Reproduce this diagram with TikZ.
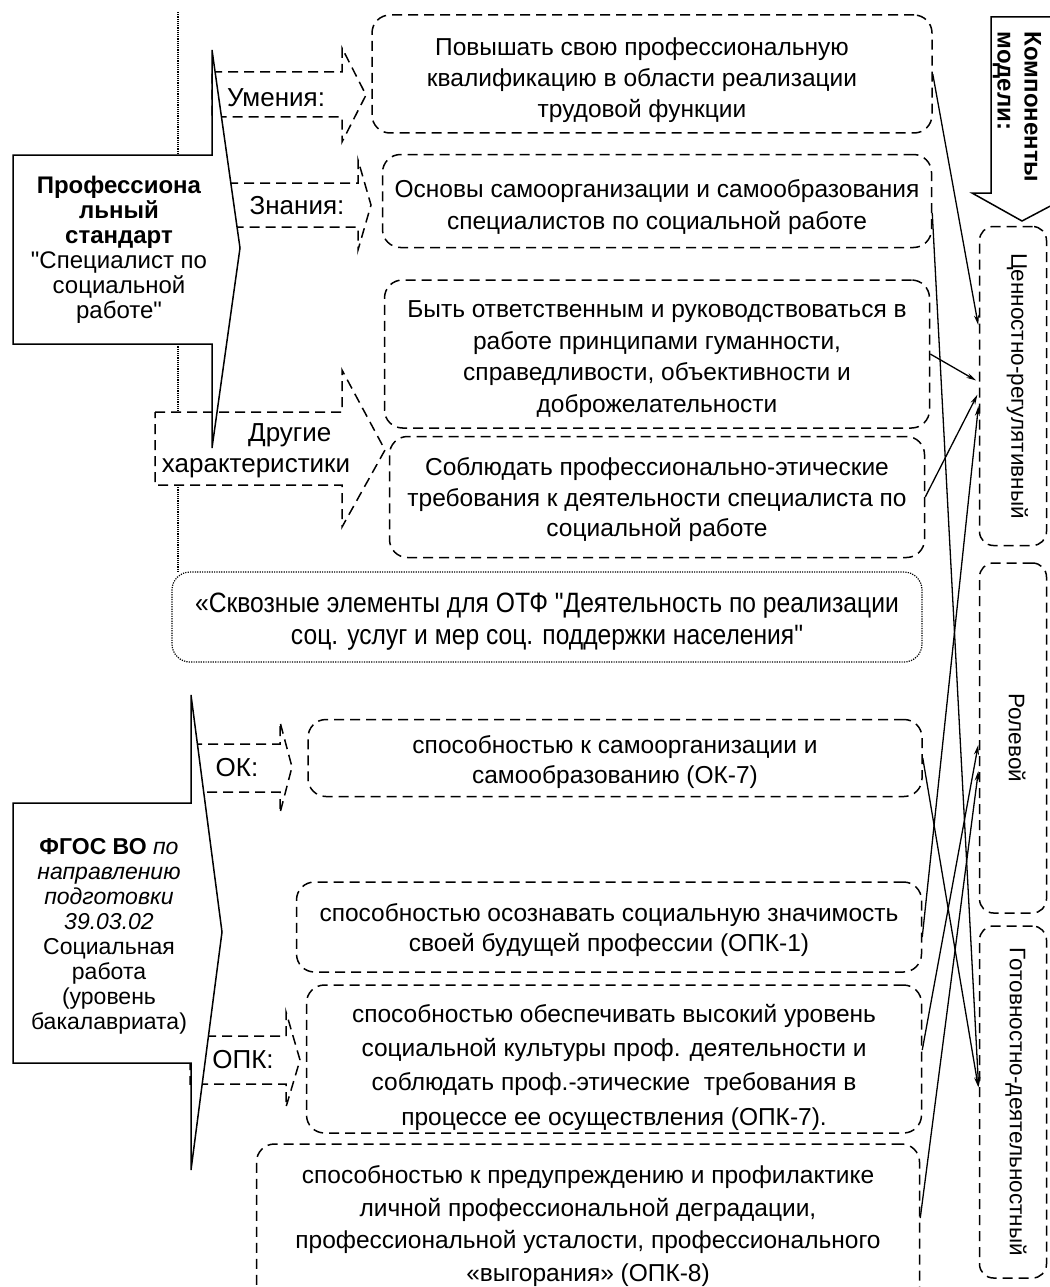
\documentclass[tikz,border=0pt]{standalone}
\usepackage{fontspec}
\usepackage{graphicx}
\setmainfont{Liberation Sans}[Ligatures=TeXOff]
\newfontfamily\narrowfont[FakeStretch=0.88,Ligatures=TeXOff]{Liberation Sans}
\usetikzlibrary{arrows.meta}

\tikzset{
  txtbox/.style={draw, dash pattern=on 10pt off 6pt, line width=1.5pt, rounded corners=18pt, inner sep=0pt},
  boxtxt/.style={align=center, inner sep=0pt, font=\fontsize{24.5}{32.5}\selectfont},
  compbox/.style={draw, dash pattern=on 10pt off 6pt, line width=1.5pt, rounded corners=14pt,
    inner sep=0pt, minimum width=67pt, font=\fontsize{22.5}{25}\selectfont},
  blockarrow/.style={draw, dash pattern=on 10pt off 6pt, line width=1.5pt, fill=white},
  callout/.style={draw, line width=1.5pt, fill=white},
  lbl/.style={align=center, inner sep=0pt, font=\fontsize{26}{31}\selectfont},
  link/.style={-{Stealth[length=10pt,width=5pt]}, line width=1.3pt, shorten >=3pt},
}

\begin{document}
\begin{tikzpicture}[x=1pt,y=-1pt]
  \useasboundingbox (0,0) rectangle (1049,1287);
  \draw[densely dotted, line width=1.2pt] (178,12) -- (178,572);
  \node[txtbox, dash pattern=on 1.2pt off 1.2pt, line width=1.2pt, minimum width=750pt, minimum height=90pt] (cross) at (547,617) {};
  \node[boxtxt, font=\narrowfont\fontsize{28}{32}\selectfont] (crosstxt) at ([yshift=-5pt]cross.center)
    {«Сквозные элементы для ОТФ "Деятельность по реализации\\ соц. услуг и мер соц. поддержки населения"};
  % block arrows
  \draw[blockarrow] (212,72) -- (342,72) -- (342,48) -- (366,95) -- (342,142) -- (342,117) -- (212,117) -- cycle;
  \draw[blockarrow] (212,183) -- (358,183) -- (358,160) -- (371,205) -- (358,250) -- (358,227) -- (212,227) -- cycle;
  \draw[blockarrow] (155,412) -- (342,412) -- (342,370) -- (385,450) -- (342,527) -- (342,485) -- (155,485) -- cycle;
  \draw[blockarrow] (192,744) -- (280,744) -- (280,722) -- (292,767) -- (280,813) -- (280,792) -- (192,792) -- cycle;
  \draw[blockarrow] (190,1036) -- (286,1036) -- (286,1012) -- (300,1060) -- (286,1107) -- (286,1084) -- (190,1084) -- cycle;
  % callouts
  \draw[callout] (13,155) -- (212,155) -- (212,50) -- (240,248) -- (212,448) -- (212,344) -- (13,344) -- cycle;
  \draw[callout] (13,803) -- (191,803) -- (191,695) -- (222,932) -- (191,1170) -- (191,1063) -- (13,1063) -- cycle;
  \node[lbl, font=\fontsize{24}{25}\selectfont] (prof) at (119,250)
    {\textbf{Профессиона}\\\textbf{льный}\\\textbf{стандарт}\\"Специалист по\\социальной\\работе"};
  \node[lbl, font=\fontsize{23}{25}\selectfont] (fgos) at (109,936)
    {\textbf{ФГОС ВО} \textit{по}\\\textit{направлению}\\\textit{подготовки}\\\textit{39.03.02}\\Социальная\\работа\\(уровень\\бакалавриата)};
  \node[lbl] (umen) at (276,98) {Умения:};
  \node[lbl] (znan) at (297,206) {Знания:};
  \node[lbl] (other) at (256,451) {\hspace*{2.6em}Другие\\характеристики};
  \node[lbl] (ok) at (237,768) {ОК:};
  \node[lbl] (opk) at (243,1060) {ОПК:};
  % text boxes
  \node[txtbox, minimum width=560pt, minimum height=118pt] (boxA) at (652,74) {};
  \node[txtbox, minimum width=549pt, minimum height=93pt] (boxB) at (657,201) {};
  \node[txtbox, minimum width=545pt, minimum height=148pt] (boxC) at (657,354) {};
  \node[txtbox, minimum width=535pt, minimum height=121pt] (boxD) at (657,497) {};
  \node[txtbox, minimum width=614pt, minimum height=77pt] (boxF) at (615,758) {};
  \node[txtbox, minimum width=625pt, minimum height=90pt] (boxG) at (609,927) {};
  \node[txtbox, minimum width=615pt, minimum height=148pt] (boxH) at (614,1059) {};
  \node[txtbox, minimum width=663pt, minimum height=170pt] (boxI) at (588,1229) {};
  \node[boxtxt, font=\fontsize{24.5}{31}\selectfont] (txtA) at ([xshift=-10pt,yshift=-6pt]boxA.center)
    {Повышать свою профессиональную\\квалификацию в области реализации\\трудовой функции};
  \node[boxtxt] (txtB) at ([yshift=-6pt]boxB.center)
    {Основы самоорганизации и самообразования\\специалистов по социальной работе};
  \node[boxtxt, font=\fontsize{24.5}{31.5}\selectfont] (txtC) at ([yshift=-5pt]boxC.center)
    {Быть ответственным и руководствоваться в\\работе принципами гуманности,\\справедливости, объективности и\\доброжелательности};
  \node[boxtxt, font=\fontsize{24.5}{30.5}\selectfont] (txtD) at ([yshift=-3pt]boxD.center)
    {Соблюдать профессионально-этические\\требования к деятельности специалиста по\\социальной работе};
  \node[boxtxt, font=\fontsize{24.5}{30.5}\selectfont] (txtF) at ([yshift=-4pt]boxF.center)
    {способностью к самоорганизации и\\самообразованию (ОК-7)};
  \node[boxtxt, font=\fontsize{24.5}{30.5}\selectfont] (txtG) at ([yshift=-3pt]boxG.center)
    {способностью осознавать социальную значимость\\своей будущей профессии (ОПК-1)};
  \node[boxtxt, font=\fontsize{24.5}{34.3}\selectfont] (txtH) at ([yshift=-8pt]boxH.center)
    {способностью обеспечивать высокий уровень\\социальной культуры проф. деятельности и\\соблюдать проф.-этические\ \ требования в\\процессе ее осуществления (ОПК-7).};
  \node[boxtxt] (txtI) at ([yshift=3pt]boxI.center)
    {способностью к предупреждению и профилактике\\личной профессиональной деградации,\\профессиональной усталости, профессионального\\«выгорания» (ОПК-8)};
  % components
  \draw[callout] (991,17) -- (1060,17) -- (1060,193) -- (1075,193) -- (1022,221) -- (972,193) -- (991,193) -- cycle;
  \node[lbl, rotate=-90, align=left, font=\bfseries\fontsize{24}{27}\selectfont] (comptitle) at (1017,107) {Компоненты\\модели:};
  \node[compbox, minimum height=319pt] (comp1) at (1013,386) {\hspace*{9pt}\rotatebox{-90}{Ценностно-регулятивный}};
  \node[compbox, minimum height=350pt] (comp2) at (1013,738) {\hspace*{8pt}\rotatebox{-90}{Ролевой}};
  \node[compbox, minimum height=352pt] (comp3) at (1013,1102) {\hspace*{6pt}\rotatebox{-90}{Готовностно-деятельностный}};
  % links
  \draw[link] (boxA.east) -- ([yshift=58pt]comp1.west);
  \draw[link] (boxC.east) -- ([yshift=4pt]comp1.west);
  \draw[link] (boxD.east) -- ([yshift=-6pt]comp1.west);
  \draw[link] ([yshift=-10pt]boxG.east) -- ([yshift=-17pt]comp1.west);
  \draw[link] ([yshift=-12pt]boxB.east) -- ([yshift=12pt]comp3.west);
  \draw[link] (boxF.east) -- ([yshift=12pt]comp3.west);
  \draw[link] ([yshift=9pt]boxH.east) -- ([yshift=-4pt]comp2.west);
  \draw[link] ([yshift=11pt]boxI.east) -- ([yshift=-30pt]comp2.west);
\end{tikzpicture}
\end{document}
